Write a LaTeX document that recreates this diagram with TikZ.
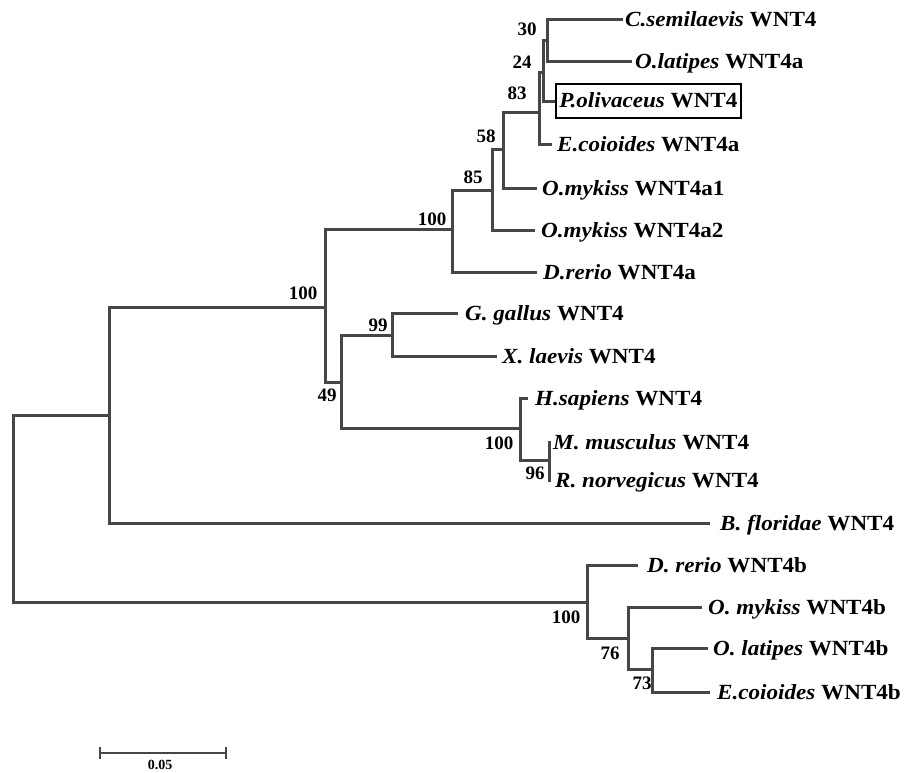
\documentclass[tikz,border=0pt]{standalone}
\usepackage{fontspec}
\setmainfont{Liberation Serif}
\newfontfamily\spfont{Liberation Serif}[FakeStretch=1.07]
\definecolor{branchgray}{RGB}{70,70,70}
\begin{document}
\begin{tikzpicture}[x=1pt,y=-1pt,
  branch/.style={draw=branchgray,line width=3pt,line join=miter},
  leaf/.style={anchor=west,inner sep=0pt,text height=14pt,text depth=0pt,
    font=\spfont\bfseries\fontsize{21.6}{23}\selectfont},
  boxleaf/.style={leaf,draw=black,line width=1.8pt,inner xsep=3.5pt,minimum height=34pt},
  bs/.style={inner sep=0pt,font=\bfseries\fontsize{19}{21}\selectfont},
  scalelbl/.style={inner sep=0pt,font=\bfseries\fontsize{14}{15}\selectfont}]
\useasboundingbox (0,0) rectangle (905,773);

% internal nodes
\coordinate (R) at (13,508);
\coordinate (A) at (109,415);
\coordinate (M) at (587,602);
\coordinate (B) at (325,307);
\coordinate (C) at (341,382);
\coordinate (G) at (452,229);
\coordinate (H) at (492,190);
\coordinate (I) at (503,150);
\coordinate (J) at (539,113);
\coordinate (L) at (543,73);
\coordinate (K) at (547,41);
\coordinate (D) at (392,335);
\coordinate (E) at (520,428);
\coordinate (F) at (549,460);
\coordinate (N) at (628,638);
\coordinate (O) at (652,669);

% leaf tips
\coordinate (tCsem) at (623,20);
\coordinate (tOlatA) at (632,62);
\coordinate (tPoli) at (555,102);
\coordinate (tEcoA) at (552,145);
\coordinate (tOmy1) at (537,188);
\coordinate (tOmy2) at (535,230);
\coordinate (tDrerA) at (537,272);
\coordinate (tGgal) at (458,313);
\coordinate (tXlae) at (497,356);
\coordinate (tHsap) at (528,398);
\coordinate (tMmus) at (551,442);
\coordinate (tRnor) at (551,480);
\coordinate (tBfl) at (710,523);
\coordinate (tDrerB) at (638,565);
\coordinate (tOmyB) at (702,607);
\coordinate (tOlatB) at (708,648);
\coordinate (tEcoB) at (710,692);

% leaf labels
\node[leaf] (lCsem) at (625,20) {{\itshape C.semilaevis} WNT4};
\node[leaf] (lOlatA) at (635,62) {{\itshape O.latipes} WNT4a};
\node[boxleaf] (lPoli) at (555,101) {{\itshape P.olivaceus} WNT4};
\node[leaf] (lEcoA) at (557,145) {{\itshape E.coioides} WNT4a};
\node[leaf] (lOmy1) at (542,188) {{\itshape O.mykiss} WNT4a1};
\node[leaf] (lOmy2) at (541,230) {{\itshape O.mykiss} WNT4a2};
\node[leaf] (lDrerA) at (543,272) {{\itshape D.rerio} WNT4a};
\node[leaf] (lGgal) at (465,313) {{\itshape G. gallus} WNT4};
\node[leaf] (lXlae) at (502,356) {{\itshape X. laevis} WNT4};
\node[leaf] (lHsap) at (535,398) {{\itshape H.sapiens} WNT4};
\node[leaf] (lMmus) at (553,442) {{\itshape M. musculus} WNT4};
\node[leaf] (lRnor) at (555,480) {{\itshape R. norvegicus} WNT4};
\node[leaf] (lBfl) at (720,523) {{\itshape B. floridae} WNT4};
\node[leaf] (lDrerB) at (647,565) {{\itshape D. rerio} WNT4b};
\node[leaf] (lOmyB) at (708,607) {{\itshape O. mykiss} WNT4b};
\node[leaf] (lOlatB) at (713,648) {{\itshape O. latipes} WNT4b};
\node[leaf] (lEcoB) at (717,692) {{\itshape E.coioides} WNT4b};

% branches
\draw[branch] (R) |- (A);
\draw[branch] (R) |- (M);
\draw[branch] (A) |- (B);
\draw[branch] (A) |- (tBfl);
\draw[branch] (B) |- (G);
\draw[branch] (B) |- (C);
\draw[branch] (G) |- (H);
\draw[branch] (G) |- (tDrerA);
\draw[branch] (H) |- (I);
\draw[branch] (H) |- (tOmy2);
\draw[branch] (I) |- (J);
\draw[branch] (I) |- (tOmy1);
\draw[branch] (J) |- (L);
\draw[branch] (J) |- (tEcoA);
\draw[branch] (L) |- (K);
\draw[branch] (L) |- (tPoli);
\draw[branch] (K) |- (tCsem);
\draw[branch] (K) |- (tOlatA);
\draw[branch] (C) |- (D);
\draw[branch] (C) |- (E);
\draw[branch] (D) |- (tGgal);
\draw[branch] (D) |- (tXlae);
\draw[branch] (E) |- (tHsap);
\draw[branch] (E) |- (F);
\draw[branch] (F) |- (tMmus);
\draw[branch] (F) |- (tRnor);
\draw[branch] (M) |- (tDrerB);
\draw[branch] (M) |- (N);
\draw[branch] (N) |- (tOmyB);
\draw[branch] (N) |- (O);
\draw[branch] (O) |- (tOlatB);
\draw[branch] (O) |- (tEcoB);

% bootstrap values
\node[bs] (b30) at (527,29) {30};
\node[bs] (b24) at (522,62) {24};
\node[bs] (b83) at (517,93) {83};
\node[bs] (b58) at (486,136) {58};
\node[bs] (b85) at (473,177) {85};
\node[bs] (b100g) at (432,219) {100};
\node[bs] (b100b) at (303,293) {100};
\node[bs] (b99) at (378,325) {99};
\node[bs] (b49) at (327,395) {49};
\node[bs] (b100e) at (499,443) {100};
\node[bs] (b96) at (535,473) {96};
\node[bs] (b100m) at (566,617) {100};
\node[bs] (b76) at (610,653) {76};
\node[bs] (b73) at (642,683) {73};

% scale bar
\coordinate (sL) at (100,753);
\coordinate (sR) at (226,753);
\draw[branch,line width=2.4pt] (sL) -- (sR);
\draw[branch,line width=1.8pt] ([yshift=-6pt]sL) -- ([yshift=6pt]sL);
\draw[branch,line width=1.8pt] ([yshift=-6pt]sR) -- ([yshift=6pt]sR);
\node[scalelbl] (slbl) at (160,765) {0.05};
\end{tikzpicture}
\end{document}
